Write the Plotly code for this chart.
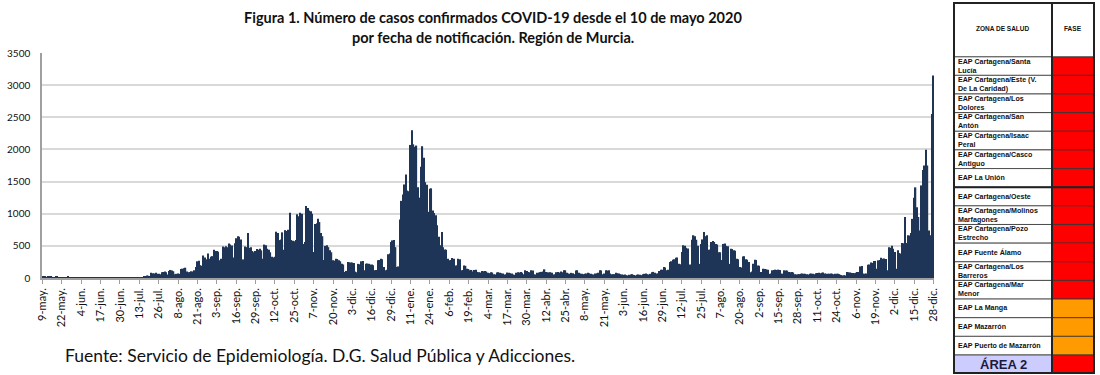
import plotly.graph_objects as go
import pandas as pd

# ---- daily confirmed cases, one list per 13-day tick period (start date in name) ----
seg_09may20 = [25, 20, 18, 15, 22, 20, 18, 15, 12, 20, 18, 15, 12]
seg_22may20 = [10, 8, 15, 12, 18, 14, 10, 8, 12, 15, 10, 9, 6]
seg_04jun20 = [5, 8, 10, 12, 9, 6, 4, 7, 10, 8, 12, 6, 5]
seg_17jun20 = [8, 10, 12, 9, 7, 5, 6, 10, 12, 14, 8, 6, 5]
seg_30jun20 = [7, 9, 12, 10, 8, 6, 5, 9, 11, 14, 12, 8, 7]
seg_13jul20 = [10, 15, 12, 18, 20, 40, 35, 30, 80, 75, 70, 80, 65]
seg_26jul20 = [65, 60, 90, 95, 100, 90, 55, 110, 125, 115, 105, 60, 65]
seg_08ago20 = [70, 65, 140, 145, 150, 160, 100, 90, 95, 105, 100, 120, 170]
seg_21ago20 = [260, 270, 200, 190, 350, 320, 290, 380, 300, 330, 340, 440, 420]
seg_03sep20 = [420, 410, 275, 300, 490, 480, 495, 480, 535, 520, 505, 320, 540]
seg_16sep20 = [620, 650, 640, 600, 280, 290, 490, 480, 700, 470, 480, 420, 400]
seg_29sep20 = [420, 450, 440, 455, 430, 300, 520, 510, 455, 440, 400, 330, 320]
seg_12oct20 = [330, 720, 700, 590, 600, 710, 440, 745, 730, 750, 1015, 590, 580]
seg_25oct20 = [570, 590, 990, 960, 1015, 1000, 530, 560, 1120, 1090, 1050, 1040, 1000]
seg_07nov20 = [405, 840, 850, 920, 870, 700, 650, 280, 500, 510, 480, 430, 400]
seg_20nov20 = [275, 270, 300, 295, 275, 260, 220, 210, 95, 110, 250, 245, 240]
seg_03dic20 = [240, 235, 100, 90, 220, 215, 260, 265, 120, 220, 225, 220, 210]
seg_16dic20 = [210, 200, 120, 125, 275, 280, 300, 290, 170, 120, 130, 370, 380]
seg_29dic20 = [560, 585, 590, 480, 170, 180, 910, 1200, 1300, 1455, 1610, 1360, 1350]
seg_11ene21 = [2070, 2300, 2080, 2040, 2060, 1410, 1250, 1730, 2050, 1870, 1490, 1450, 1030]
seg_24ene21 = [1390, 1395, 1050, 1010, 975, 820, 640, 510, 715, 480, 445, 440, 300]
seg_06feb21 = [275, 280, 310, 300, 195, 200, 300, 290, 120, 125, 195, 190, 145]
seg_19feb21 = [140, 120, 125, 100, 125, 130, 95, 90, 85, 110, 105, 110, 100]
seg_04mar21 = [80, 75, 90, 85, 60, 55, 85, 90, 80, 75, 70, 55, 60]
seg_17mar21 = [85, 80, 75, 70, 55, 50, 80, 90, 85, 95, 80, 60, 120]
seg_30mar21 = [110, 95, 90, 120, 115, 60, 55, 80, 85, 90, 95, 100, 135]
seg_12abr21 = [95, 90, 85, 90, 80, 55, 60, 90, 95, 85, 100, 90, 120]
seg_25abr21 = [120, 80, 70, 65, 80, 75, 60, 115, 120, 80, 70, 65, 60]
seg_08may21 = [65, 70, 80, 75, 65, 60, 55, 70, 75, 80, 120, 115, 60]
seg_21may21 = [70, 120, 115, 120, 70, 60, 55, 60, 80, 75, 70, 60, 55]
seg_03jun21 = [50, 55, 45, 40, 50, 55, 60, 45, 40, 50, 55, 50, 45]
seg_16jun21 = [60, 65, 70, 60, 55, 65, 90, 95, 80, 70, 75, 110, 130]
seg_29jun21 = [130, 170, 165, 120, 130, 250, 260, 285, 290, 315, 320, 220, 215]
seg_12jul21 = [404, 510, 500, 470, 460, 200, 210, 595, 665, 650, 595, 500, 220]
seg_25jul21 = [530, 600, 715, 650, 665, 440, 445, 560, 575, 560, 530, 520, 400]
seg_07ago21 = [400, 280, 530, 535, 500, 495, 220, 455, 450, 430, 425, 300, 290]
seg_20ago21 = [170, 165, 335, 340, 290, 285, 250, 90, 100, 220, 285, 280, 195]
seg_02sep21 = [190, 95, 90, 145, 140, 135, 130, 65, 70, 120, 125, 130, 125]
seg_15sep21 = [130, 125, 70, 65, 120, 118, 115, 95, 90, 93, 85, 60, 55]
seg_28sep21 = [57, 60, 65, 70, 67, 65, 60, 55, 67, 70, 65, 60, 75]
seg_11oct21 = [78, 80, 75, 83, 85, 70, 65, 67, 65, 70, 67, 60, 65]
seg_24oct21 = [67, 65, 60, 45, 40, 42, 40, 93, 90, 85, 80, 78, 75]
seg_06nov21 = [80, 93, 95, 180, 185, 70, 65, 70, 205, 210, 240, 235, 265]
seg_19nov21 = [265, 145, 275, 280, 315, 300, 305, 295, 120, 480, 470, 500, 455]
seg_02dic21 = [405, 145, 430, 390, 380, 545, 540, 950, 545, 665, 660, 700, 920]
seg_15dic21 = [1250, 1410, 1100, 950, 740, 1440, 1680, 1750, 1995, 1750, 740, 665, 2550]
seg_28dic21 = [3150]

segments = [seg_09may20, seg_22may20, seg_04jun20, seg_17jun20, seg_30jun20, seg_13jul20,
            seg_26jul20, seg_08ago20, seg_21ago20, seg_03sep20, seg_16sep20, seg_29sep20,
            seg_12oct20, seg_25oct20, seg_07nov20, seg_20nov20, seg_03dic20, seg_16dic20,
            seg_29dic20, seg_11ene21, seg_24ene21, seg_06feb21, seg_19feb21, seg_04mar21,
            seg_17mar21, seg_30mar21, seg_12abr21, seg_25abr21, seg_08may21, seg_21may21,
            seg_03jun21, seg_16jun21, seg_29jun21, seg_12jul21, seg_25jul21, seg_07ago21,
            seg_20ago21, seg_02sep21, seg_15sep21, seg_28sep21, seg_11oct21, seg_24oct21,
            seg_06nov21, seg_19nov21, seg_02dic21, seg_15dic21, seg_28dic21]
cases = [v for s in segments for v in s]

start_date = "2020-05-09"
tick_labels = ["9-may.", "22-may.", "4-jun.", "17-jun.", "30-jun.", "13-jul.", "26-jul.",
               "8-ago.", "21-ago.", "3-sep.", "16-sep.", "29-sep.", "12-oct.", "25-oct.",
               "7-nov.", "20-nov.", "3-dic.", "16-dic.", "29-dic.", "11-ene.", "24-ene.",
               "6-feb.", "19-feb.", "4-mar.", "17-mar.", "30-mar.", "12-abr.", "25-abr.",
               "8-may.", "21-may.", "3-jun.", "16-jun.", "29-jun.", "12-jul.", "25-jul.",
               "7-ago.", "20-ago.", "2-sep.", "15-sep.", "28-sep.", "11-oct.", "24-oct.",
               "6-nov.", "19-nov.", "2-dic.", "15-dic.", "28-dic."]
tick_step = 13

zones = ["EAP Cartagena/Santa<br>Lucía", "EAP Cartagena/Este (V.<br>De La Caridad)",
         "EAP Cartagena/Los<br>Dolores", "EAP Cartagena/San<br>Antón",
         "EAP Cartagena/Isaac<br>Peral", "EAP Cartagena/Casco<br>Antiguo", "EAP La Unión",
         "EAP Cartagena/Oeste", "EAP Cartagena/Molinos<br>Marfagones",
         "EAP Cartagena/Pozo<br>Estrecho", "EAP Fuente Álamo", "EAP Cartagena/Los<br>Barreros",
         "EAP Cartagena/Mar<br>Menor", "EAP La Manga", "EAP Mazarrón", "EAP Puerto de Mazarrón"]
phases = ["rojo"] * 13 + ["naranja"] * 3
area_label = "ÁREA 2"
area_phase = "rojo"
phase_colors = {"rojo": "#FF0000", "naranja": "#FF9A00"}

dates = pd.date_range(start_date, periods=len(cases), freq="D")
tickvals = list(dates[::tick_step])

W, H = 1100, 375
L, R, T, B = 42, 166, 53, 97
PW, PH = W - L - R, H - T - B


def px(x):
    return (x - L) / PW


def py(y):
    return (H - B - y) / PH


fig = go.Figure(go.Bar(x=dates, y=cases, marker_color="#1F3557", marker_line_width=0,
                       hoverinfo="x+y"))

x0 = dates[0] - pd.Timedelta(hours=8)
x1 = dates[-1] + pd.Timedelta(hours=8)

fig.update_layout(
    width=W, height=H, margin=dict(l=L, r=R, t=T, b=B, autoexpand=False),
    plot_bgcolor="white", paper_bgcolor="white", showlegend=False, bargap=0.12,
    font=dict(family="Lato, Open Sans, sans-serif", color="#111111"),
    xaxis=dict(range=[x0, x1], tickvals=tickvals, ticktext=tick_labels, tickangle=-90,
               tickfont=dict(size=11, family="Lato", color="#111111"), automargin=False,
               ticks="outside", ticklen=4, tickcolor="#A0A0A0", showline=True,
               linecolor="#A0A0A0", linewidth=1.5, showgrid=False),
    yaxis=dict(range=[0, 3500], dtick=500, showgrid=True, gridcolor="#D9D9D9", gridwidth=2,
               showline=True, linecolor="#A0A0A0", linewidth=1.5, zeroline=False,
               automargin=False,
               tickfont=dict(size=10, family="Lato", color="#111111"), ticklabelstandoff=8),
)

ann = []
ann.append(dict(text="<b>Figura 1. Número de casos confirmados COVID-19 desde el 10 de mayo 2020</b>",
                x=px(493), y=py(17), xref="paper", yref="paper", showarrow=False,
                font=dict(size=14.5, family="Lato", color="#111111"), xanchor="center", yanchor="middle"))
ann.append(dict(text="<b>por fecha de notificación. Región de Murcia.</b>",
                x=px(493), y=py(37), xref="paper", yref="paper", showarrow=False,
                font=dict(size=14.5, family="Lato", color="#111111"), xanchor="center", yanchor="middle"))
ann.append(dict(text="Fuente: Servicio de Epidemiología. D.G. Salud Pública y Adicciones.",
                x=px(63), y=py(355), xref="paper", yref="paper", showarrow=False,
                font=dict(size=17.5, family="Lato", color="#111111"), xanchor="left", yanchor="middle"))

# ---- table on the right ----
shapes = []
tx0, tdiv, tx1 = 954, 1052, 1094
ty_top, ty_head = 3, 56.7
row_h = (355 - ty_head) / len(zones)
cell_font = dict(size=7.1, family="Liberation Sans, Arial", color="#111111")

for i, (z, ph) in enumerate(zip(zones, phases)):
    ya = ty_head + i * row_h
    yb = ya + row_h
    shapes.append(dict(type="rect", xref="paper", yref="paper", x0=px(tdiv), x1=px(tx1),
                       y0=py(yb), y1=py(ya), fillcolor=phase_colors[ph],
                       line=dict(color="#333333", width=0.8), layer="above"))
    shapes.append(dict(type="rect", xref="paper", yref="paper", x0=px(tx0), x1=px(tdiv),
                       y0=py(yb), y1=py(ya), fillcolor="white",
                       line=dict(color="#333333", width=0.8), layer="above"))
    ann.append(dict(text="<b>" + z + "</b>", x=px(tx0 + 2), y=py((ya + yb) / 2),
                    xref="paper", yref="paper", showarrow=False, xanchor="left",
                    yanchor="middle", align="left", font=cell_font))

ya = 355
yb = 373
shapes.append(dict(type="rect", xref="paper", yref="paper", x0=px(tx0), x1=px(tdiv),
                   y0=py(yb), y1=py(ya), fillcolor="#CCCCFF",
                   line=dict(color="#333333", width=0.8), layer="above"))
shapes.append(dict(type="rect", xref="paper", yref="paper", x0=px(tdiv), x1=px(tx1),
                   y0=py(yb), y1=py(ya), fillcolor=phase_colors[area_phase],
                   line=dict(color="#333333", width=0.8), layer="above"))
ann.append(dict(text="<b>" + area_label + "</b>", x=px((tx0 + tdiv) / 2), y=py((ya + yb) / 2),
                xref="paper", yref="paper", showarrow=False, xanchor="center", yanchor="middle",
                font=dict(size=13, family="Liberation Sans, Arial", color="#1a1a3a")))

# header
shapes.append(dict(type="rect", xref="paper", yref="paper", x0=px(tx0), x1=px(tdiv),
                   y0=py(ty_head), y1=py(ty_top), fillcolor="white",
                   line=dict(color="#333333", width=0.8), layer="above"))
shapes.append(dict(type="rect", xref="paper", yref="paper", x0=px(tdiv), x1=px(tx1),
                   y0=py(ty_head), y1=py(ty_top), fillcolor="white",
                   line=dict(color="#333333", width=0.8), layer="above"))
ann.append(dict(text="<b>ZONA DE SALUD</b>", x=px((tx0 + tdiv) / 2), y=py(29), xref="paper",
                yref="paper", showarrow=False, xanchor="center", yanchor="middle",
                font=dict(size=6.5, family="Liberation Sans, Arial", color="#111111")))
ann.append(dict(text="<b>FASE</b>", x=px((tdiv + tx1) / 2), y=py(29), xref="paper",
                yref="paper", showarrow=False, xanchor="center", yanchor="middle",
                font=dict(size=6.5, family="Liberation Sans, Arial", color="#111111")))

# thick separators and outer frame
shapes.append(dict(type="line", xref="paper", yref="paper", x0=px(tx0), x1=px(tx1),
                   y0=py(ty_head + 7 * row_h), y1=py(ty_head + 7 * row_h),
                   line=dict(color="#222222", width=2), layer="above"))
shapes.append(dict(type="line", xref="paper", yref="paper", x0=px(tdiv), x1=px(tdiv),
                   y0=py(373), y1=py(ty_top), line=dict(color="#222222", width=2), layer="above"))
shapes.append(dict(type="rect", xref="paper", yref="paper", x0=px(tx0), x1=px(tx1),
                   y0=py(373), y1=py(ty_top), line=dict(color="#222222", width=2), layer="above"))

fig.update_layout(annotations=ann, shapes=shapes)
fig.write_html("out.html", config={"displayModeBar": False},
               post_script="document.body.style.margin='0';document.body.style.padding='0';"
                           "document.documentElement.style.overflow='hidden';")
